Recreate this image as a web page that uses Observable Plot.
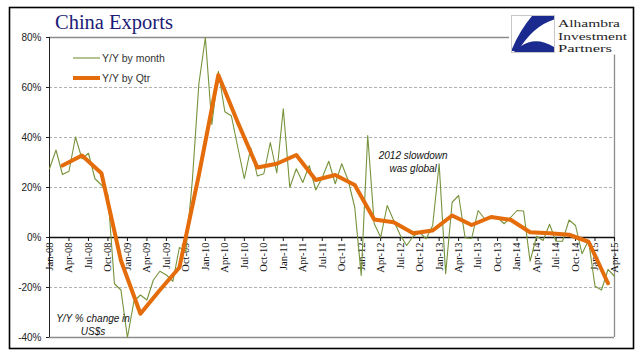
<!DOCTYPE html>
<html>
<head>
<meta charset="utf-8">
<script src="https://cdn.jsdelivr.net/npm/d3@7"></script>
<script src="https://cdn.jsdelivr.net/npm/@observablehq/plot@0.6"></script>
<style>
  html, body { margin: 0; padding: 0; background: #fff; }
  #wrap { position: relative; width: 641px; height: 361px; overflow: hidden; }
  #overlay { position: absolute; left: 0; top: 0; pointer-events: none; }
</style>
</head>
<body>
<div id="wrap"></div>
<script>
// ---- Data ----
// Monthly Y/Y % change, Jan-08 .. Apr-15
const monthlyYoY = [
  27.5, 35, 25.2, 26.5, 40.2, 31.5, 33.7, 23.5, 21, 17, -18.5, -21,      // 2008
  -40, -25.5, -23, -25, -17, -13.5, -15, -17.5, -4, -5.5, 23, 61.5,      // 2009
  80, 45.2, 66.5, 50.3, 48.7, 36, 23.5, 35.9, 24.6, 25.5, 38, 25.8,      // 2010
  51.5, 20, 27.5, 22, 28.8, 19, 24, 30.5, 21.5, 29.5, 22.8, 12.1,        // 2011
  -15.2, 40.8, 5.5, 0.1, 12.8, 6.8, 1, -3.2, 0.5, 2, -0.5, 4.8,          // 2012
  29.5, -14.5, 14.1, 16.8, -0.1, -0.4, 10.8, 7.5, 8.5, 8, 5.5, 8,        // 2013
  10.8, 10.6, -9.5, 0.5, -1.2, 5.3, -1.5, -1.5, 7, 4.8, -6.5, -1.2,      // 2014
  -19.5, -21, -12.8, -15.5                                               // 2015
];
// Quarterly Y/Y % change (plotted at quarter-end month), Q1-08 .. Q1-15
const quarterlyYoY = [
  28.8, 32.8, 25.7, -9.2,
  -30.5, -21, -12, 25,
  65, 46, 28, 29.5,
  33, 23, 25, 21,
  7.2, 6.1, 1.7, 2.8,
  8.8, 5, 8.2, 7.1,
  2.1, 1.7, 1.1, -1.7,
  -18.3
];
// X tick labels (every third month)
const xTickLabels = [
  "Jan-08","Apr-08","Jul-08","Oct-08","Jan-09","Apr-09","Jul-09","Oct-09",
  "Jan-10","Apr-10","Jul-10","Oct-10","Jan-11","Apr-11","Jul-11","Oct-11",
  "Jan-12","Apr-12","Jul-12","Oct-12","Jan-13","Apr-13","Jul-13","Oct-13",
  "Jan-14","Apr-14","Jul-14","Oct-14","Jan-15","Apr-15"
];
const yTicks = [-40, -20, 0, 20, 40, 60, 80];
const gridLevels = [60, 40, 20, -20];
const annotations = [
  {i: 56, v: 30.6, text: "2012 slowdown\nwas global"},
  {i: 6.7, v: -34.6, text: "Y/Y % change in\nUS$s"}
];

// ---- Tables built from the arrays ----
const monthData = monthlyYoY.map((v, i) => ({i, v}));
const qtrData = quarterlyYoY.map((v, q) => ({i: 3 * q + 2, v}));
const tickData = xTickLabels.map((t, k) => ({i: 3 * k, t}));

const green = "#77933c";
const orange = "#e46c0a";

const chart = Plot.plot({
  width: 641,
  height: 361,
  marginLeft: 49,
  marginRight: 27,
  marginTop: 37,
  marginBottom: 24,
  x: {domain: [0, monthlyYoY.length - 1], axis: null, label: null},
  y: {domain: [-40, 80], axis: null, label: null},
  style: {background: "transparent", fontFamily: "'Liberation Sans', Arial, sans-serif", color: "#222"},
  marks: [
    Plot.ruleY(gridLevels, {stroke: "#a8a8a8", strokeWidth: 0.9, strokeDasharray: "3,2"}),
    Plot.ruleY([80, -40], {stroke: "#8c8c8c", strokeWidth: 1.3}),
    Plot.ruleX([monthlyYoY.length - 1], {stroke: "#8c8c8c", strokeWidth: 1.3}),
    Plot.ruleX([0], {stroke: "#222", strokeWidth: 1}),
    Plot.axisY({ticks: yTicks, tickFormat: d => d + "%", tickSize: 3, tickPadding: 5, fontSize: 10, stroke: "#222", label: null}),
    Plot.ruleY([0], {stroke: "#111", strokeWidth: 1.3}),
    Plot.ruleX(tickData, {x: "i", y1: 0, y2: 0, insetBottom: -4, stroke: "#111"}),
    Plot.text(tickData, {x: "i", y: 0, text: "t", rotate: -90, textAnchor: "end", dy: 5,
      fontSize: 10.5, fontFamily: "'Liberation Serif', 'Times New Roman', serif", fill: "#111"}),
    Plot.line(monthData, {x: "i", y: "v", stroke: green, strokeWidth: 1.1}),
    Plot.line(qtrData, {x: "i", y: "v", stroke: orange, strokeWidth: 4}),
    Plot.text(annotations, {x: "i", y: "v", text: "text", lineAnchor: "middle", lineHeight: 1.3,
      fontSize: 10, fontStyle: "italic", fill: "#111"})
  ]
});

const wrap = document.getElementById("wrap");
wrap.appendChild(chart);

// ---- Overlay: frame, title, legend, logo ----
const ns = "http://www.w3.org/2000/svg";
const ov = document.createElementNS(ns, "svg");
ov.setAttribute("id", "overlay");
ov.setAttribute("width", 641);
ov.setAttribute("height", 361);
ov.innerHTML = `
  <rect x="509" y="9" width="123" height="45.5" fill="#fff"/>
  <rect x="9.5" y="7.5" width="624" height="341" fill="none" stroke="#000" stroke-width="1.6"/>
  <text x="55" y="29" font-family="'Liberation Serif','Times New Roman',serif" font-size="20.5" fill="#1c1c78">China Exports</text>
  <line x1="73" x2="100" y1="58" y2="58" stroke="${green}" stroke-width="1.1"/>
  <text x="102" y="61.5" font-family="'Liberation Sans',Arial,sans-serif" font-size="10.5" fill="#333">Y/Y by month</text>
  <line x1="73" x2="100" y1="78" y2="78" stroke="${orange}" stroke-width="4"/>
  <text x="102" y="81.5" font-family="'Liberation Sans',Arial,sans-serif" font-size="10.5" fill="#333">Y/Y by Qtr</text>
  <rect x="511.5" y="15.5" width="43" height="37" fill="#fff" stroke="#c8c8c8"/>
  <path d="M532 16 L554 16 L554 19.5 Q533 26 518 51 L512 51 L512 49 Q520 30 532 16 Z" fill="#1a2a8f"/>
  <path d="M512 52 L554 52 L554 47 Q536 36 521 46 Q516 49 514 52 Z" fill="#1a2a8f"/>
  <g font-family="'Liberation Serif','Times New Roman',serif" font-size="11.4" fill="#1e1e1e">
    <text x="558" y="27" textLength="62" lengthAdjust="spacingAndGlyphs">Alhambra</text>
    <text x="558" y="39.7" textLength="69" lengthAdjust="spacingAndGlyphs">Investment</text>
    <text x="558" y="52.4" textLength="54" lengthAdjust="spacingAndGlyphs">Partners</text>
  </g>
`;
wrap.appendChild(ov);
</script>
</body>
</html>
